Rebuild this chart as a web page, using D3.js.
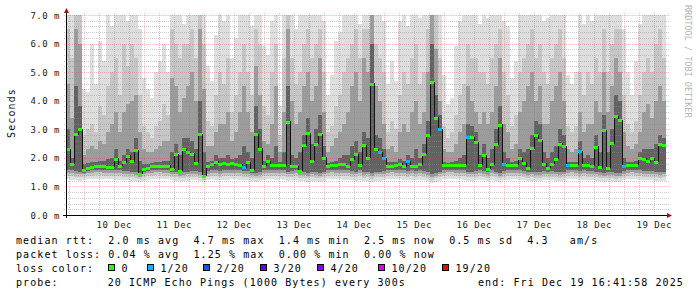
<!DOCTYPE html>
<html>
<head>
<meta charset="utf-8">
<title>SmokePing latency</title>
<style>
  body { margin: 0; background: #fff; }
  svg text { font-family: "DejaVu Sans Mono", monospace; }
</style>
</head>
<body>
<svg id="chart" width="697" height="297"></svg>
<script src="https://d3js.org/d3.v7.min.js"></script>
<script>
// one column = 96 minutes, 150 columns = 10 days
const med = [
  2.31,1.80,2.83,3.01,1.56,1.64,1.69,1.70,1.72,1.72,
  1.69,1.69,1.97,1.72,1.85,2.08,1.88,2.27,1.45,1.62,
  1.65,1.70,1.72,1.72,1.72,1.72,1.62,2.13,1.55,2.31,
  2.20,2.14,1.83,2.83,1.38,1.70,1.78,1.87,1.80,1.82,
  1.80,1.81,1.78,1.76,1.67,1.84,1.58,2.83,2.32,1.72,
  1.88,1.76,1.76,1.76,1.74,3.27,1.70,1.70,1.55,2.45,
  2.86,1.90,2.50,2.83,2.00,1.70,1.74,1.76,1.80,1.77,
  1.73,1.95,2.13,1.76,2.45,2.00,4.60,2.30,2.20,1.98,
  1.72,1.70,1.74,1.79,1.70,1.88,1.72,1.72,1.77,2.15,
  2.80,4.65,3.40,3.00,1.75,1.74,1.76,1.76,1.76,1.76,
  2.74,2.72,2.55,1.76,2.10,1.62,1.78,2.47,3.16,1.80,
  1.76,1.76,1.76,1.98,1.83,1.65,2.34,2.79,2.62,1.80,
  1.65,1.80,1.97,2.50,2.40,1.76,1.76,1.76,2.23,1.76,
  1.76,1.72,2.39,1.68,2.97,1.65,2.52,3.46,3.31,1.72,
  1.76,1.74,1.76,1.98,1.97,1.88,1.98,1.86,2.48,2.45
];
// [column, lost pings of 20]
const lossAt = [[44,1],[78,1],[79,1],[85,1],[93,1],[100,1],[109,1],[125,1],[128,1],[139,1]];

// smoke: upper edges (max ping, then inner quantiles)
const mx = [
  7,7,7,7,4.4,4.3,6.0,4.6,6.1,5.4,
  7,6.6,7,7,7,6.8,7,7,6.5,4.8,
  4.4,4.1,5.0,5.4,6.0,5.0,7,7,7,6.7,
  7,7,7,7,7,5.2,4.7,6.3,7,6.8,
  7,5.5,6.2,7,7,7,6.6,7,7,5.9,
  5.6,6.8,7,3.8,7,7,7,6.5,7,7,
  7,7,7,7,6.8,4.2,4.9,6.1,6.4,7,
  7,7,7,6.7,7,7,7,7,7,6.8,
  4.6,5.4,4.7,6.8,7,6.6,7,7,6.9,7,
  7,7,7,7,4.9,3.9,4.1,5.9,6.8,7,
  7,7,7,6.7,7,6.9,7,7,7,6.8,
  6.6,4.8,5.4,7,7,7,7,7,7,6.8,
  6.9,7,7,7,7,4.9,4.6,5.0,7,6.7,
  7,6.8,7,7,7,7,7,7,7,6.5,
  5.0,4.2,5.4,6.7,7,7,7,7,7,7
];
const u3 = [
  6.5,5.5,7,7,2.8,3.0,3.2,2.9,3.8,3.5,
  4.5,5.0,5.5,4.2,6.0,5.2,6.0,5.5,4.2,3.1,
  2.9,2.7,3.1,3.3,3.9,3.5,6.5,6.0,5.5,6.0,
  6.0,6.5,5.5,7,6.0,3.3,3.1,4.2,5.0,4.6,
  5.5,3.6,4.2,5.0,6.0,5.0,4.2,6.5,6.0,3.8,
  3.5,5.0,6.0,2.8,5.5,7,5.5,4.6,5.0,6.0,
  6.5,5.5,6.0,6.5,5.0,2.9,3.1,3.8,4.2,5.0,
  5.5,6.0,6.5,5.5,6.5,6.5,7,6.0,5.5,5.0,
  2.9,3.3,3.0,4.2,5.0,4.6,5.5,6.0,4.6,5.0,
  6.5,7,7,5.5,3.1,2.7,2.9,3.5,4.2,4.6,
  6.0,5.5,5.5,5.0,5.0,4.6,5.5,6.0,6.5,5.0,
  4.2,3.1,3.5,5.0,5.5,6.0,6.5,5.5,6.0,5.0,
  4.6,5.5,6.0,6.5,5.5,3.1,2.9,3.1,5.0,4.2,
  5.0,4.6,5.5,5.0,6.5,5.0,6.0,6.5,6.5,4.2,
  3.2,2.9,3.3,4.2,5.0,5.5,5.0,6.0,6.5,5.5
];
const u2 = [
  4.6,3.4,6.5,6.0,2.1,2.3,2.4,2.3,2.6,2.5,
  2.9,3.2,3.6,2.9,3.6,3.9,4.0,4.2,2.9,2.3,
  2.2,2.2,2.3,2.4,2.6,2.6,4.8,4.5,3.6,4.1,
  4.5,5.0,4.0,6.5,4.4,2.4,2.4,2.9,3.2,3.2,
  3.6,2.6,2.9,3.6,4.5,3.6,2.9,5.2,4.2,2.6,
  2.5,3.2,4.5,2.2,3.6,6.5,4.0,3.2,3.6,4.5,
  5.0,4.0,4.5,5.5,3.6,2.2,2.4,2.7,2.9,3.2,
  3.6,4.5,5.0,4.0,5.5,5.0,7,4.5,4.0,3.2,
  2.3,2.4,2.2,2.9,3.2,2.9,3.6,4.0,3.2,3.6,
  5.0,7,5.8,4.0,2.3,2.2,2.2,2.5,2.9,3.2,
  4.5,4.0,3.6,3.2,3.6,3.2,3.6,4.5,5.5,3.2,
  2.9,2.3,2.5,3.6,4.0,4.5,5.0,4.0,4.5,3.2,
  3.2,4.0,4.5,5.0,4.0,2.3,2.2,2.3,3.6,2.9,
  3.2,3.2,4.0,3.6,5.0,3.6,4.5,5.5,5.0,2.9,
  2.4,2.3,2.5,2.9,3.6,3.9,3.4,4.0,4.5,4.0
];
const u1 = [
  3.0,2.0,4.5,3.8,1.8,1.82,1.85,1.85,1.9,1.9,
  1.95,2.0,2.3,1.9,2.1,2.3,2.2,2.7,1.9,1.8,
  1.8,1.82,1.85,1.85,1.9,1.9,2.2,2.5,2.1,2.7,
  2.7,2.6,2.3,4.0,2.2,1.85,1.9,2.1,2.0,2.0,
  2.1,1.95,2.0,2.1,2.4,2.2,2.0,3.8,3.0,1.9,
  2.1,2.0,2.4,1.85,2.2,4.5,2.1,2.0,2.2,2.8,
  3.4,2.5,3.0,3.5,2.4,1.82,1.85,1.9,2.0,2.1,
  2.1,2.4,2.6,2.2,2.9,2.7,6.0,2.8,2.7,2.3,
  1.85,1.85,1.85,1.95,1.9,2.1,2.0,2.3,2.0,2.5,
  3.3,6.0,4.2,3.5,1.85,1.82,1.85,1.9,2.0,2.1,
  3.2,3.1,2.9,2.1,2.5,2.0,2.3,3.0,3.8,2.2,
  2.0,1.85,1.9,2.3,2.2,2.3,2.8,3.3,3.2,2.2,
  2.0,2.2,2.4,3.0,2.8,1.85,1.85,1.85,2.6,2.0,
  2.1,2.0,2.8,2.2,3.5,2.2,3.0,4.2,4.0,2.0,
  1.85,1.85,1.9,2.2,2.3,2.3,2.3,2.5,2.8,2.7
];
// smoke: lower edges (min ping, then inner quantiles)
const lo = [
  1.25,1.24,1.22,1.20,1.22,1.25,1.26,1.27,1.27,1.26,
  1.26,1.25,1.24,1.24,1.22,1.22,1.20,1.18,1.16,1.20,
  1.24,1.26,1.27,1.27,1.26,1.26,1.22,1.20,1.20,1.18,
  1.20,1.22,1.22,1.18,1.14,1.22,1.25,1.24,1.22,1.24,
  1.24,1.25,1.25,1.24,1.22,1.22,1.20,1.16,1.18,1.24,
  1.25,1.26,1.24,1.26,1.24,1.20,1.22,1.24,1.20,1.18,
  1.16,1.20,1.18,1.16,1.20,1.26,1.27,1.26,1.25,1.24,
  1.24,1.22,1.20,1.24,1.18,1.20,1.14,1.20,1.20,1.22,
  1.26,1.27,1.26,1.25,1.24,1.22,1.24,1.22,1.24,1.22,
  1.18,1.12,1.16,1.20,1.26,1.27,1.27,1.26,1.25,1.24,
  1.20,1.20,1.22,1.24,1.22,1.20,1.24,1.20,1.16,1.22,
  1.24,1.26,1.26,1.24,1.22,1.20,1.20,1.18,1.18,1.22,
  1.22,1.22,1.20,1.18,1.20,1.26,1.27,1.26,1.22,1.24,
  1.22,1.22,1.20,1.20,1.16,1.20,1.18,1.14,1.16,1.22,
  1.26,1.27,1.26,1.24,1.22,1.22,1.22,1.20,1.18,1.20
];
const l2 = [
  1.36,1.36,1.34,1.32,1.34,1.37,1.38,1.39,1.39,1.38,
  1.38,1.37,1.36,1.36,1.34,1.34,1.32,1.30,1.27,1.32,
  1.36,1.38,1.39,1.39,1.38,1.38,1.34,1.32,1.30,1.30,
  1.32,1.34,1.34,1.30,1.24,1.34,1.37,1.36,1.34,1.36,
  1.36,1.37,1.37,1.36,1.34,1.34,1.30,1.28,1.30,1.36,
  1.37,1.38,1.36,1.38,1.36,1.32,1.34,1.36,1.30,1.30,
  1.28,1.32,1.30,1.28,1.32,1.38,1.39,1.38,1.37,1.36,
  1.36,1.34,1.32,1.36,1.30,1.32,1.26,1.32,1.32,1.34,
  1.38,1.39,1.38,1.37,1.36,1.34,1.36,1.34,1.36,1.34,
  1.30,1.24,1.28,1.32,1.38,1.39,1.39,1.38,1.37,1.36,
  1.32,1.32,1.34,1.36,1.34,1.30,1.36,1.32,1.28,1.34,
  1.36,1.38,1.38,1.36,1.34,1.30,1.32,1.30,1.30,1.34,
  1.32,1.34,1.32,1.30,1.32,1.38,1.39,1.38,1.34,1.36,
  1.34,1.34,1.32,1.30,1.28,1.30,1.30,1.26,1.28,1.34,
  1.38,1.39,1.38,1.36,1.34,1.34,1.34,1.32,1.30,1.32
];
const l3 = [
  1.46,1.46,1.44,1.42,1.42,1.46,1.48,1.49,1.49,1.48,
  1.48,1.47,1.46,1.46,1.44,1.44,1.42,1.40,1.34,1.42,
  1.46,1.48,1.49,1.49,1.48,1.48,1.42,1.42,1.38,1.40,
  1.42,1.44,1.44,1.40,1.30,1.44,1.47,1.46,1.44,1.46,
  1.46,1.47,1.47,1.46,1.44,1.44,1.40,1.38,1.40,1.46,
  1.47,1.48,1.46,1.48,1.46,1.42,1.44,1.46,1.40,1.40,
  1.38,1.42,1.40,1.38,1.42,1.48,1.49,1.48,1.47,1.46,
  1.46,1.44,1.42,1.46,1.40,1.42,1.36,1.42,1.42,1.44,
  1.48,1.49,1.48,1.47,1.46,1.44,1.46,1.44,1.46,1.44,
  1.40,1.34,1.38,1.42,1.48,1.49,1.49,1.48,1.47,1.46,
  1.42,1.42,1.44,1.46,1.44,1.40,1.46,1.42,1.38,1.44,
  1.46,1.48,1.48,1.46,1.44,1.40,1.42,1.40,1.40,1.44,
  1.42,1.44,1.42,1.40,1.42,1.48,1.49,1.48,1.44,1.46,
  1.44,1.44,1.42,1.40,1.38,1.40,1.40,1.36,1.38,1.44,
  1.48,1.49,1.48,1.46,1.44,1.44,1.44,1.42,1.40,1.42
];
const l4 = [
  1.56,1.56,1.54,1.52,1.48,1.54,1.57,1.58,1.59,1.58,
  1.58,1.57,1.56,1.56,1.55,1.54,1.52,1.50,1.40,1.52,
  1.55,1.58,1.59,1.59,1.58,1.58,1.52,1.52,1.46,1.50,
  1.52,1.54,1.54,1.50,1.34,1.54,1.57,1.56,1.55,1.56,
  1.56,1.57,1.57,1.56,1.54,1.54,1.48,1.48,1.50,1.56,
  1.57,1.58,1.56,1.58,1.56,1.52,1.54,1.56,1.48,1.50,
  1.48,1.52,1.50,1.48,1.52,1.58,1.59,1.58,1.57,1.56,
  1.56,1.54,1.52,1.56,1.50,1.52,1.46,1.52,1.52,1.54,
  1.58,1.59,1.58,1.57,1.56,1.54,1.56,1.54,1.56,1.54,
  1.50,1.44,1.48,1.52,1.58,1.59,1.59,1.58,1.57,1.56,
  1.52,1.52,1.54,1.56,1.54,1.50,1.56,1.52,1.48,1.54,
  1.56,1.58,1.58,1.56,1.54,1.50,1.52,1.50,1.50,1.54,
  1.52,1.54,1.52,1.50,1.52,1.58,1.59,1.58,1.54,1.56,
  1.54,1.54,1.52,1.50,1.48,1.50,1.50,1.46,1.48,1.54,
  1.58,1.59,1.58,1.56,1.54,1.54,1.54,1.52,1.50,1.52
];

const yTicks = [0, 1, 2, 3, 4, 5, 6, 7];
const rttStats = [2.0, 4.7, 1.4, 2.5, 0.5];   // avg max min now sd
const rttAmps = 4.3;
const lossStats = [0.04, 1.25, 0.00, 0.00];    // avg max min now
const lossSteps = ["0", "1/20", "2/20", "3/20", "4/20", "10/20", "19/20"];
const lossColors = ["#26ff00", "#00b8ff", "#0059ff", "#5e00ff", "#7e00ff", "#dd00ff", "#ff0000"];
const lossLevels = [0, 1, 2, 3, 4, 10, 19];
const probeText = "20 ICMP Echo Pings (1000 Bytes) every 300s";
const endText = "end: Fri Dec 19 16:41:58 2025";

// ---- layout ----
const svg = d3.select("#chart");
const start = Date.UTC(2025, 11, 9, 16, 42);
const end = start + 10 * 864e5;
const step = 96 * 60e3;
const t = i => new Date(start + i * step);

const x = d3.scaleUtc().domain([start, end]).range([66, 666]);
const y = d3.scaleLinear().domain([0, 7]).range([215, 15]).clamp(true);

svg.append("rect").attr("width", 697).attr("height", 297).attr("fill", "#fff");

// smoke
const bands = [
  { lower: lo, upper: mx, fill: "#dedede" },
  { lower: l2, upper: u3, fill: "#c6c6c6" },
  { lower: l3, upper: u2, fill: "#9c9c9c" },
  { lower: l4, upper: u1, fill: "#626262" }
];
const idx = d3.range(med.length);
bands.forEach(b => {
  svg.append("g").attr("shape-rendering", "crispEdges")
    .selectAll("rect").data(idx).join("rect")
    .attr("x", i => x(t(i)))
    .attr("width", i => x(t(i + 1)) - x(t(i)))
    .attr("y", i => y(b.upper[i]))
    .attr("height", i => y(b.lower[i]) - y(b.upper[i]))
    .attr("fill", b.fill);
});

// grid
const grid = svg.append("g").attr("shape-rendering", "crispEdges");
const minorCol = "rgba(140,140,140,0.45)", majorCol = "rgba(225,70,70,0.34)";
const minorY = d3.range(0, 7.01, 0.2).filter(v => Math.abs(v - Math.round(v)) > 0.01);
grid.selectAll(".hmin").data(minorY).join("line")
  .attr("x1", 64).attr("x2", 669)
  .attr("y1", d => Math.round(y(d)) + 0.5).attr("y2", d => Math.round(y(d)) + 0.5)
  .attr("stroke", minorCol).attr("stroke-dasharray", "1,1");
const sixH = d3.utcHour.every(6).range(new Date(start), new Date(end)).filter(d => d.getUTCHours() !== 0);
grid.selectAll(".vmin").data(sixH).join("line")
  .attr("y1", 13).attr("y2", 217)
  .attr("x1", d => Math.round(x(d)) + 0.5).attr("x2", d => Math.round(x(d)) + 0.5)
  .attr("stroke", minorCol).attr("stroke-dasharray", "1,1");
grid.selectAll(".hmaj").data(yTicks.slice(1)).join("line")
  .attr("x1", 64).attr("x2", 669)
  .attr("y1", d => Math.round(y(d)) + 0.5).attr("y2", d => Math.round(y(d)) + 0.5)
  .attr("stroke", majorCol).attr("stroke-dasharray", "1,1");
const days = d3.utcDay.range(new Date(start), new Date(end));
grid.selectAll(".vmaj").data(days).join("line")
  .attr("y1", 13).attr("y2", 218)
  .attr("x1", d => Math.round(x(d)) + 0.5).attr("x2", d => Math.round(x(d)) + 0.5)
  .attr("stroke", majorCol).attr("stroke-dasharray", "1,1");

// median
const pts = idx.map(i => [x(t(i)), y(med[i])]);
pts.push([x(t(med.length)), y(med[med.length - 1])]);
svg.append("path").attr("d", d3.line().curve(d3.curveStepAfter)(pts))
  .attr("fill", "none").attr("stroke", "#111").attr("stroke-width", 1)
  .attr("shape-rendering", "crispEdges");

const lossOf = new Map(lossAt);
const lossColor = n => lossColors[d3.bisectRight(lossLevels, n) - 1];
svg.append("g").attr("shape-rendering", "crispEdges")
  .selectAll("rect").data(idx).join("rect")
  .attr("x", i => x(t(i)))
  .attr("width", i => x(t(i + 1)) - x(t(i)))
  .attr("y", i => Math.round(y(med[i])) - 1)
  .attr("height", 3)
  .attr("fill", i => lossColor(lossOf.get(i) || 0));

// axes
const axes = svg.append("g").attr("shape-rendering", "crispEdges");
axes.append("line").attr("x1", 63).attr("x2", 668).attr("y1", 215.5).attr("y2", 215.5).attr("stroke", "#000");
axes.append("line").attr("x1", 66.5).attr("x2", 66.5).attr("y1", 218).attr("y2", 12).attr("stroke", "#000");
svg.append("path").attr("d", "M64,13 L66.5,8 L69,13 Z").attr("fill", "#a01010");
svg.append("path").attr("d", "M667,213 L672,215.5 L667,218 Z").attr("fill", "#a01010");

const tickFont = { size: "9px", ls: "0.5px" };
svg.append("g").selectAll("text").data(yTicks).join("text")
  .attr("x", 60).attr("y", d => y(d) + 3.5)
  .attr("text-anchor", "end")
  .attr("font-size", tickFont.size).attr("letter-spacing", tickFont.ls).attr("fill", "#222")
  .text(d => d3.format(".1f")(d) + " m");

const noons = days.map(d => d3.utcHour.offset(d, 12)).filter(d => d < end);
svg.append("g").selectAll("text").data(noons).join("text")
  .attr("x", d => x(d)).attr("y", 228)
  .attr("text-anchor", "middle")
  .attr("font-size", tickFont.size).attr("letter-spacing", tickFont.ls).attr("fill", "#222")
  .text(d3.utcFormat("%d Dec"));

svg.append("text")
  .attr("transform", "translate(15,113) rotate(-90)")
  .attr("text-anchor", "middle").attr("font-size", "10px").attr("letter-spacing", "1.1px")
  .attr("fill", "#111").text("Seconds");

svg.append("text")
  .attr("transform", "translate(685,5) rotate(90)")
  .attr("font-size", "8.5px").attr("fill", "#b4b4b4")
  .text("RRDTOOL / TOBI OETIKER");

// legend (spaces kept as no-break spaces so the columns line up)
const f1 = d3.format(".1f"), f2 = d3.format(".2f");
const pre = s => s.replace(/ /g, "\u00a0");
const legend = svg.append("g").attr("font-size", "10px").attr("letter-spacing", "1.08px").attr("fill", "#000");
legend.append("text").attr("x", 16).attr("y", 244)
  .text(pre(`median rtt:  ${f1(rttStats[0])} ms avg  ${f1(rttStats[1])} ms max  ${f1(rttStats[2])} ms min  ${f1(rttStats[3])} ms now  ${f1(rttStats[4])} ms sd  ${f1(rttAmps)}   am/s`));
legend.append("text").attr("x", 16).attr("y", 258)
  .text(pre(`packet loss: ${f2(lossStats[0])} % avg  ${f2(lossStats[1])} % max  ${f2(lossStats[2])} % min  ${f2(lossStats[3])} % now`));
legend.append("text").attr("x", 16).attr("y", 272).text("loss color:");
const boxX = [108, 147, 203, 260, 317, 378, 442];
lossSteps.forEach((s, i) => {
  legend.append("rect").attr("x", boxX[i] + 0.5).attr("y", 264.5).attr("width", 6).attr("height", 6)
    .attr("fill", lossColors[i]).attr("stroke", "#000").attr("shape-rendering", "crispEdges");
  legend.append("text").attr("x", boxX[i] + 13.5).attr("y", 272).text(s);
});
legend.append("text").attr("x", 16).attr("y", 286).text("probe:");
legend.append("text").attr("x", 107.7).attr("y", 286).text(pre(probeText));
legend.append("text").attr("x", 478).attr("y", 286).text(pre(endText));
</script>
</body>
</html>
